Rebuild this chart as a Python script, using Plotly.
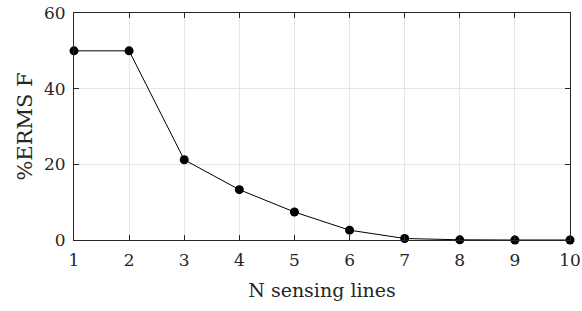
import plotly.graph_objects as go

n_lines = [1, 2, 3, 4, 5, 6, 7, 8, 9, 10]
erms_f = [50.0, 50.0, 21.2, 13.3, 7.4, 2.6, 0.4, 0.05, 0.0, 0.0]
x_ticks = [1, 2, 3, 4, 5, 6, 7, 8, 9, 10]
y_ticks = [0, 20, 40, 60]

fig = go.Figure()
fig.add_trace(go.Scatter(
    x=n_lines, y=erms_f, mode="lines+markers",
    line=dict(color="black", width=1),
    marker=dict(color="black", size=9),
    showlegend=False, cliponaxis=False,
))

tick_font = dict(family="DejaVu Serif", size=17, color="#262626")
title_font = dict(family="DejaVu Serif", size=19, color="#262626")
axis_common = dict(
    showline=True, linecolor="#262626", linewidth=1, mirror="ticks",
    ticks="inside", ticklen=5, tickcolor="#262626", tickwidth=1,
    showgrid=True, gridcolor="#e6e6e6", gridwidth=1,
    zeroline=False, tickfont=tick_font, automargin=False,
)
fig.update_xaxes(range=[1, 10], tickvals=x_ticks, ticklabelstandoff=5,
                 title=dict(text="N sensing lines", font=title_font, standoff=14),
                 **axis_common)
fig.update_yaxes(range=[0, 60], tickvals=y_ticks, ticklabelstandoff=4,
                 title=dict(text="%ERMS F", font=dict(title_font, size=21), standoff=5),
                 **axis_common)
fig.update_layout(
    width=582, height=311,
    margin=dict(l=74, r=12, t=13, b=71),
    plot_bgcolor="white", paper_bgcolor="white",
    font=title_font,
)
fig.write_html("out.html", config={"displayModeBar": False},
               post_script="document.body.style.margin='0';")
